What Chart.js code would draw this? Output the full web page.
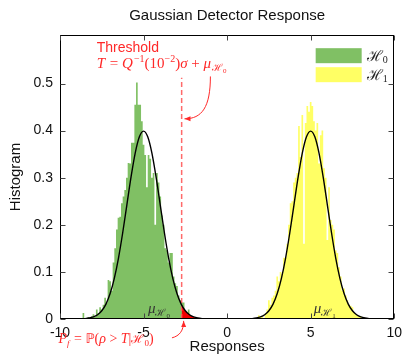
<!DOCTYPE html>
<html><head><meta charset="utf-8">
<script src="https://cdn.jsdelivr.net/npm/chart.js@4.4.1/dist/chart.umd.min.js"></script>
<style>html,body{margin:0;padding:0;background:#fff;}canvas{display:block;}</style>
</head><body>
<canvas id="c" width="408" height="356"></canvas>
<script>
// ---- data ----
const xTicks = [-10, -5, 0, 5, 10];
const yTicks = [0, 0.1, 0.2, 0.3, 0.4, 0.5];
const binWidth = 0.1;

const h0FirstBin = -8.6;
const h0Hist = [0.013,0,0,0.004,0,0.006,0.010,0.004,0.020,0.012,
  0.025,0.020,0.030,0.045,0.035,0.083,0.080,0.060,0.120,0.150,
  0.190,0.215,0.217,0.246,0.260,0.274,0.300,0.331,0.330,0.374,
  0.374,0.455,0.502,0.455,0.455,0.420,0.370,0.348,0.280,0.348,
  0.340,0.300,0.310,0.200,0.310,0.290,0.260,0.220,0.200,0.150,
  0.146,0.120,0.140,0.140,0.090,0.076,0.070,0.050,0.040,0.035,
  0.035,0.015,0.010,0.020,0.005,0,0.003];

const h1FirstBin = 1.8;
const h1Hist = [0,0.008,0.004,0.006,0,0.012,0.020,0.040,0.030,0.045,
  0.050,0.060,0.090,0.080,0.100,0.095,0.130,0.130,0.160,0.200,
  0.246,0.250,0.290,0.300,0.310,0.410,0.344,0.433,0.160,0.416,
  0.452,0.440,0.461,0.452,0.420,0.400,0.416,0.330,0.390,0.400,
  0.320,0.300,0.168,0.280,0.210,0.200,0.190,0.146,0.140,0.110,
  0.090,0.060,0.065,0.050,0.040,0.030,0.028,0.025,0.015,0.010,
  0.008,0.004,0.006,0.002,0.003,0,0.002];

const curve0X = [-10,-9,-8.5,-8.25,-8,-7.75,-7.5,-7.25,-7,-6.75,-6.5,-6.25,-6,-5.75,-5.5,-5.25,-5,
  -4.75,-4.5,-4.25,-4,-3.75,-3.5,-3.25,-3,-2.75,-2.5,-2.25,-2,-1.75,-1.5,-1,0,10];
const curve0Y = [0,0.0001,0.0009,0.0020,0.0044,0.0091,0.0175,0.0317,0.0540,0.0863,0.1295,0.1826,0.2420,0.3011,0.3521,0.3867,0.3989,
  0.3867,0.3521,0.3011,0.2420,0.1826,0.1295,0.0863,0.0540,0.0317,0.0175,0.0091,0.0044,0.0020,0.0009,0.0001,0,0];

const curve1X = [-10,0,1,1.5,1.75,2,2.25,2.5,2.75,3,3.25,3.5,3.75,4,4.25,4.5,4.75,5,
  5.25,5.5,5.75,6,6.25,6.5,6.75,7,7.25,7.5,7.75,8,8.25,8.5,9,10];
const curve1Y = [0,0,0.0001,0.0009,0.0020,0.0044,0.0091,0.0175,0.0317,0.0540,0.0863,0.1295,0.1826,0.2420,0.3011,0.3521,0.3867,0.3989,
  0.3867,0.3521,0.3011,0.2420,0.1826,0.1295,0.0863,0.0540,0.0317,0.0175,0.0091,0.0044,0.0020,0.0009,0.0001,0];

const pfX = [-2.72,-2.5,-2.25,-2,-1.75,-1.5,-1];
const pfY = [0.0297,0.0175,0.0091,0.0044,0.0020,0.0009,0.0001];

const threshold = -2.72;
const thresholdTop = 0.512;

// ---- build datasets ----
function histPoints(first, vals) {
  const pts = [{x: first - binWidth, y: 0}];
  vals.forEach((v, i) => pts.push({x: +(first + i * binWidth).toFixed(3), y: v}));
  pts.push({x: +(first + vals.length * binWidth).toFixed(3), y: 0});
  return pts;
}
const zip = (xs, ys) => xs.map((x, i) => ({x, y: ys[i]}));

const GREEN = 'rgb(128,192,100)';
const YELLOW = 'rgb(255,255,100)';
const RED = 'rgb(255,40,40)';

const SANS = '"Liberation Sans", Arial, Helvetica, sans-serif';
const SERIF = '"Liberation Serif", "DejaVu Serif", serif';

function rich(ctx, x, y, segs, color) {
  let cx = x;
  ctx.fillStyle = color;
  ctx.textBaseline = 'alphabetic';
  ctx.textAlign = 'left';
  for (const s of segs) {
    ctx.font = s.f;
    ctx.fillText(s.t, cx, y + (s.dy || 0));
    cx += ctx.measureText(s.t).width + (s.dx || 0);
  }
  return cx;
}
function arrowHead(ctx, tip, from, len, w, color) {
  const ang = Math.atan2(tip.y - from.y, tip.x - from.x);
  ctx.save();
  ctx.translate(tip.x, tip.y);
  ctx.rotate(ang);
  ctx.beginPath();
  ctx.moveTo(0, 0);
  ctx.lineTo(-len, -w / 2);
  ctx.lineTo(-len, w / 2);
  ctx.closePath();
  ctx.fillStyle = color;
  ctx.fill();
  ctx.restore();
}

const IT = 'italic 15px ' + SERIF;
const RM = '15px ' + SERIF;
const SUP = '10px ' + SERIF;
const SUB = '10px ' + SERIF;
const SUB2 = '7px ' + SERIF;
const IT14 = 'italic 14px ' + SERIF;
const RM14 = '14px ' + SERIF;

const deco = {
  id: 'deco',
  afterDraw(chart) {
    const {ctx, chartArea: a, scales: {x, y}} = chart;
    const X = v => x.getPixelForValue(v), Y = v => y.getPixelForValue(v);
    ctx.save();
    // frame
    ctx.strokeStyle = '#000';
    ctx.lineWidth = 1;
    const L = Math.round(a.left) + 0.5, R = Math.round(a.right) - 0.5,
          T = Math.round(a.top) + 0.5, B = Math.round(a.bottom) - 0.5;
    ctx.strokeRect(L, T, R - L, B - T);
    // inward ticks
    ctx.strokeStyle = '#444';
    ctx.beginPath();
    xTicks.forEach(v => {
      const px = Math.round(X(v)) + 0.5;
      ctx.moveTo(px, B); ctx.lineTo(px, B - 5);
      ctx.moveTo(px, T); ctx.lineTo(px, T + 5);
    });
    yTicks.forEach(v => {
      const py = Math.round(Y(v)) + 0.5;
      ctx.moveTo(L, py); ctx.lineTo(L + 5, py);
      ctx.moveTo(R, py); ctx.lineTo(R - 5, py);
    });
    ctx.stroke();

    // title and axis titles
    ctx.fillStyle = '#111';
    ctx.font = '15px ' + SANS;
    ctx.textAlign = 'center';
    ctx.textBaseline = 'alphabetic';
    ctx.fillText('Gaussian Detector Response', (a.left + a.right) / 2, 20);
    ctx.fillText('Responses', (a.left + a.right) / 2, 351);
    ctx.save();
    ctx.translate(20, (a.top + a.bottom) / 2);
    ctx.rotate(-Math.PI / 2);
    ctx.fillText('Histogram', 0, 0);
    ctx.restore();

    // legend
    const lx = X(5.3), ly = Y(0.575);
    ctx.fillStyle = GREEN; ctx.fillRect(lx, ly, 46, 15);
    ctx.fillStyle = YELLOW; ctx.fillRect(lx, ly + 19, 46, 15);
    rich(ctx, lx + 51, ly + 13, [{t: 'ℋ', f: '15px ' + SERIF}, {t: '0', f: '10px ' + SERIF, dy: 2}], '#222');
    rich(ctx, lx + 51, ly + 32, [{t: 'ℋ', f: '15px ' + SERIF}, {t: '1', f: '10px ' + SERIF, dy: 2}], '#222');

    // threshold text
    ctx.font = '14px ' + SANS;
    ctx.fillStyle = RED;
    ctx.textAlign = 'left';
    ctx.fillText('Threshold', X(-7.8), Y(0.566));
    rich(ctx, X(-7.8), Y(0.532), [
      {t: 'T', f: IT, dx: 1}, {t: ' = ', f: RM}, {t: 'Q', f: IT, dx: 1}, {t: '−1', f: SUP, dy: -6},
      {t: '(10', f: RM}, {t: '−2', f: SUP, dy: -6}, {t: ')', f: RM}, {t: 'σ', f: IT},
      {t: ' + ', f: RM}, {t: 'μ', f: IT, dx: 1}, {t: 'ℋ', f: SUB, dy: 3}, {t: '0', f: SUB2, dy: 5}
    ], RED);

    // mu labels
    rich(ctx, X(-4.74), Y(0.013), [{t: 'μ', f: IT}, {t: 'ℋ', f: SUB, dy: 3}, {t: '0', f: SUB2, dy: 5}], '#333');
    rich(ctx, X(5.18), Y(0.013), [{t: 'μ', f: IT}, {t: 'ℋ', f: SUB, dy: 3}, {t: '1', f: SUB2, dy: 5}], '#333');

    // Pf label
    rich(ctx, X(-10.09), Y(-0.052), [
      {t: 'P', f: IT14}, {t: 'f', f: 'italic 9px ' + SERIF, dy: 3, dx: 1}, {t: ' = ', f: RM14},
      {t: 'ℙ', f: '13px "DejaVu Sans", ' + SERIF}, {t: '(', f: RM14}, {t: 'ρ', f: IT14},
      {t: ' > ', f: RM14}, {t: 'T', f: IT14}, {t: '|', f: RM14}, {t: 'ℋ', f: '12px ' + SERIF},
      {t: '0', f: '9px ' + SERIF, dy: 3}, {t: ')', f: RM14}
    ], RED);

    // arrow 1 (threshold label -> dashed line)
    ctx.strokeStyle = RED; ctx.lineWidth = 1;
    const s1 = {x: X(-1.0), y: Y(0.515)}, c1 = {x: X(-1.0), y: Y(0.45)},
          c2 = {x: X(-1.5), y: Y(0.425)}, e1 = {x: X(-2.55), y: Y(0.425)};
    ctx.beginPath(); ctx.moveTo(s1.x, s1.y);
    ctx.bezierCurveTo(c1.x, c1.y, c2.x, c2.y, e1.x, e1.y); ctx.stroke();
    arrowHead(ctx, e1, c2, 6, 5, RED);
    // arrow 2 (Pf label -> red area)
    const s2 = {x: X(-3.3), y: Y(-0.040)}, d1 = {x: X(-2.85), y: Y(-0.036)},
          d2 = {x: X(-2.6), y: Y(-0.025)}, e2 = {x: X(-2.6), y: Y(-0.004)};
    ctx.beginPath(); ctx.moveTo(s2.x, s2.y);
    ctx.bezierCurveTo(d1.x, d1.y, d2.x, d2.y, e2.x, e2.y); ctx.stroke();
    arrowHead(ctx, e2, d2, 6, 5, RED);
    ctx.restore();
  }
};

new Chart(document.getElementById('c'), {
  type: 'line',
  data: {
    datasets: [
      {data: zip(curve0X, curve0Y), borderColor: '#000', borderWidth: 1.4, pointRadius: 0, fill: false, cubicInterpolationMode: 'monotone', order: 0},
      {data: zip(curve1X, curve1Y), borderColor: '#000', borderWidth: 1.4, pointRadius: 0, fill: false, cubicInterpolationMode: 'monotone', order: 0},
      {data: [{x: threshold, y: 0}, {x: threshold, y: thresholdTop}], borderColor: 'rgba(255,90,90,0.9)', borderWidth: 1.5, borderDash: [5, 3], pointRadius: 0, fill: false, order: 1},
      {data: zip(pfX, pfY), borderWidth: 0, borderColor: 'rgba(0,0,0,0)', backgroundColor: 'rgb(240,0,0)', pointRadius: 0, fill: 'origin', cubicInterpolationMode: 'monotone', order: 2},
      {data: histPoints(h0FirstBin, h0Hist), stepped: 'middle', borderWidth: 0, borderColor: 'rgba(0,0,0,0)', backgroundColor: GREEN, pointRadius: 0, fill: 'origin', order: 3},
      {data: histPoints(h1FirstBin, h1Hist), stepped: 'middle', borderWidth: 0, borderColor: 'rgba(0,0,0,0)', backgroundColor: YELLOW, pointRadius: 0, fill: 'origin', order: 4}
    ]
  },
  options: {
    responsive: false,
    animation: false,
    devicePixelRatio: 1,
    layout: {padding: {top: 35, right: 8, left: 0, bottom: 0}},
    plugins: {legend: {display: false}, tooltip: {enabled: false}, title: {display: false}},
    scales: {
      x: {
        type: 'linear', min: -10, max: 10,
        grid: {display: false, drawTicks: false}, border: {display: false},
        afterBuildTicks: s => { s.ticks = xTicks.map(v => ({value: v})); },
        afterFit: s => { s.height = 37; },
        ticks: {padding: 6, color: '#111', font: {family: SANS, size: 14}, callback: v => String(v), maxRotation: 0, autoSkip: false}
      },
      y: {
        type: 'linear', min: 0, max: 0.603,
        grid: {display: false, drawTicks: false}, border: {display: false},
        afterBuildTicks: s => { s.ticks = yTicks.map(v => ({value: v})); },
        afterFit: s => { s.width = 60; },
        ticks: {padding: 7, color: '#111', font: {family: SANS, size: 14}, callback: v => String(+v.toFixed(1)), autoSkip: false}
      }
    }
  },
  plugins: [deco]
});
</script>
</body></html>
